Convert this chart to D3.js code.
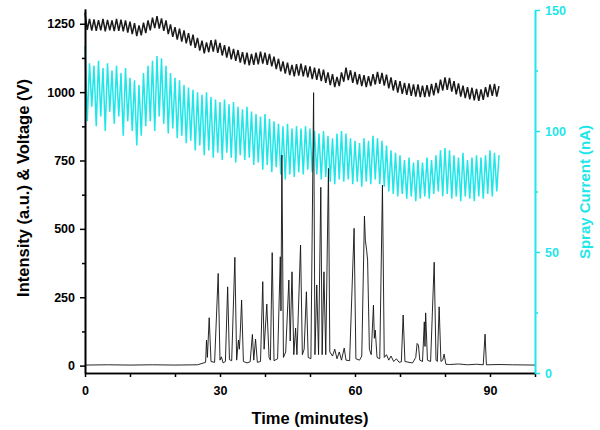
<!DOCTYPE html>
<html>
<head>
<meta charset="utf-8">
<script src="https://cdn.jsdelivr.net/npm/d3@7/dist/d3.min.js"></script>
<style>
  body { margin: 0; background: #fff; }
  svg { display: block; }
  text { font-family: "Liberation Sans", Arial, sans-serif; font-weight: bold; }
</style>
</head>
<body>
<svg id="chart" width="600" height="430"></svg>
<script>
// ---------- data ----------
const sampleStep = 0.5; // minutes between voltage / current samples

// Voltage (V), left axis, one value every 0.5 min from 0 to 92 min
const voltage = [
  1290,1228, 1268,1225, 1266,1224, 1263,1226, 1268,1222, 1264,1226, 1262,1223, 1268,1224, 1265,1222, 1262,1218,
  1258,1212, 1252,1205, 1244,1208, 1254,1216, 1262,1226, 1272,1234, 1278,1232, 1270,1224, 1262,1212, 1248,1202,
  1238,1192, 1232,1185, 1226,1178, 1216,1170, 1210,1162, 1198,1152, 1188,1142, 1182,1146, 1190,1148, 1192,1144,
  1180,1134, 1172,1126, 1166,1120, 1158,1114, 1154,1108, 1146,1102, 1144,1098, 1140,1100, 1144,1102, 1148,1104,
  1144,1100, 1140,1094, 1130,1084, 1122,1076, 1112,1068, 1108,1062, 1100,1058, 1102,1060, 1104,1058, 1098,1054,
  1094,1048, 1090,1045, 1086,1040, 1082,1034, 1072,1026, 1066,1018, 1056,1022, 1072,1038, 1090,1044, 1080,1034,
  1074,1028, 1066,1022, 1062,1018, 1058,1022, 1066,1028, 1074,1030, 1070,1024, 1064,1014, 1054,1006, 1044,998,
  1040,994, 1034,990, 1032,986, 1028,984, 1028,982, 1024,982, 1026,984, 1030,988, 1034,996, 1046,1006,
  1054,1008, 1052,1002, 1040,992, 1032,984, 1024,978, 1018,974, 1016,970, 1012,968, 1010,972, 1018,982,
  1028,986, 1030,984, 1022
];

// Spray current (nA), right axis, one value every 0.5 min from 0 to 92 min
const sprayCurrent = [
  135,104, 128,110, 127,102, 129,106, 126,100, 128,108, 125,103, 127,106, 124,98, 126,104,
  122,100, 121,94, 119,98, 124,102, 127,104, 129,100, 131,106, 130,103, 127,99, 124,101,
  122,97, 121,98, 119,95, 118,96, 117,92, 116,94, 115,90, 116,92, 114,89, 113,91,
  112,88, 113,91, 111,89, 112,87, 110,90, 109,88, 110,89, 108,86, 107,87, 106,84,
  107,86, 105,83, 104,85, 103,82, 102,80, 103,82, 101,81, 102,83, 101,82, 102,84,
  101,83, 100,82, 99,80, 100,81, 98,79, 97,78, 99,80, 100,79, 99,80, 97,78,
  96,79, 95,77, 97,79, 96,78, 98,80, 97,78, 96,77, 94,75, 92,74, 91,73,
  90,74, 88,72, 89,73, 87,71, 88,72, 87,73, 89,72, 88,74, 90,75, 92,73,
  93,74, 92,72, 90,73, 89,71, 91,73, 88,72, 89,71, 90,73, 89,72, 90,74,
  92,73, 91,75, 90
];

// Chromatogram intensity (a.u.), left axis: time (min) and intensity
const chromTime = [
  0,5,10,15,20,25,26,26.8,27.0,27.2,27.6,28.0,28.8,29.6,30.0,30.3,30.7,31.2,31.7,32.1,
  32.6,33.3,33.7,34.1,34.3,34.5,34.8,35.2,36.0,36.7,37.2,37.5,37.9,38.3,39.0,39.5,39.8,40.4,40.9,41.2,
  41.6,42.0,42.8,43.4,43.55,43.75,44.1,44.6,45.3,45.6,46.0,46.4,46.8,47.1,47.9,48.3,48.7,49.2,49.6,50.2,
  50.8,51.1,51.5,51.9,52.4,52.7,53.1,53.5,54.1,54.4,55.0,55.5,56.0,56.5,57.0,57.6,58.0,58.8,59.8,60.2,
  61.0,61.5,62.1,62.3,62.6,62.8,63.2,63.6,64.1,64.3,64.5,64.9,65.5,66.1,66.5,67.0,67.5,68.0,68.6,69.2,
  69.8,70.3,70.7,71.1,72.0,72.8,73.5,73.8,74.1,74.4,75.0,75.4,75.55,75.7,76.1,76.8,77.6,78.0,78.3,78.7,
  79.1,79.5,79.8,80.2,81,83,85,87,88.5,88.9,89.2,92,95,100
];
const chromIntensity = [
  2,3,2,3,2,3,8,12,93,30,175,15,12,337,20,32,10,15,288,22,
  18,396,20,93,60,118,240,15,10,14,114,20,97,12,15,307,60,225,30,20,
  413,18,25,398,200,770,30,50,313,90,343,40,137,40,441,40,60,270,30,25,
  998,40,295,40,652,40,343,40,721,50,35,60,25,50,20,64,20,18,502,25,
  20,35,547,459,420,386,60,40,221,100,130,30,25,660,30,40,20,35,15,25,
  12,14,185,15,12,10,30,81,75,20,15,160,70,193,20,15,378,20,15,215,
  15,20,42,5,4,6,3,5,3,115,3,4,3,2
];

// Axis ticks
const leftMajorTicks = [0, 250, 500, 750, 1000, 1250];
const leftMinorTicks = [125, 375, 625, 875, 1125];
const rightMajorTicks = [0, 50, 100, 150];
const rightMinorTicks = [25, 75, 125];
const xMajorTicks = [0, 30, 60, 90];
const xMinorTicks = [10, 20, 40, 50, 70, 80, 100];

// ---------- drawing ----------
const CYAN = "#1fe6e8";
const svg = d3.select("#chart");
const fmt = d3.format("d");

const x = d3.scaleLinear().domain([0, 100]).range([85, 535]);
const yL = d3.scaleLinear().domain([-27, 1304]).range([373, 9]);
const yR = d3.scaleLinear().domain([0, 150]).range([373, 10]);

const voltPts = voltage.map((v, i) => [i * sampleStep, v]);
const currPts = sprayCurrent.map((v, i) => [i * sampleStep, v]);
const chromPts = chromTime.map((t, i) => [t, chromIntensity[i]]);

const lineL = d3.line().x(d => x(d[0])).y(d => yL(d[1]));
const lineR = d3.line().x(d => x(d[0])).y(d => yR(d[1]));

svg.append("path").datum(currPts)
  .attr("d", lineR).attr("fill", "none")
  .attr("stroke", CYAN).attr("stroke-width", 1.5);

svg.append("path").datum(voltPts)
  .attr("d", lineL).attr("fill", "none")
  .attr("stroke", "#1a1a1a").attr("stroke-width", 1.5);

svg.append("path").datum(chromPts)
  .attr("d", lineL).attr("fill", "none")
  .attr("stroke", "#111").attr("stroke-width", 0.9)
  .attr("stroke-linejoin", "round");

function styleAxis(g, color) {
  g.selectAll("path.domain").attr("stroke", color).attr("stroke-width", 1.6);
  g.selectAll(".tick line").attr("stroke", color).attr("stroke-width", 1.5);
  g.selectAll(".tick text").attr("fill", color)
    .style("font-family", '"Liberation Sans", Arial, sans-serif')
    .style("font-weight", "bold").style("font-size", "12.5px");
}

// Left axis
const gL = svg.append("g").attr("transform", "translate(85,0)")
  .call(d3.axisLeft(yL).tickValues(leftMajorTicks).tickFormat(fmt).tickSize(5).tickSizeOuter(0).tickPadding(5));
styleAxis(gL, "#000");
const gLm = svg.append("g").attr("transform", "translate(85,0)")
  .call(d3.axisLeft(yL).tickValues(leftMinorTicks).tickSize(3).tickSizeOuter(0).tickFormat(""));
styleAxis(gLm, "#000");

// Bottom axis
const gB = svg.append("g").attr("transform", "translate(0,373)")
  .call(d3.axisBottom(x).tickValues(xMajorTicks).tickFormat(fmt).tickSize(4).tickSizeOuter(0).tickPadding(9));
styleAxis(gB, "#000");
const gBm = svg.append("g").attr("transform", "translate(0,373)")
  .call(d3.axisBottom(x).tickValues(xMinorTicks).tickSize(4).tickSizeOuter(0).tickFormat(""));
styleAxis(gBm, "#000");

// Right axis
const gR = svg.append("g").attr("transform", "translate(535,0)")
  .call(d3.axisRight(yR).tickValues(rightMajorTicks).tickFormat(fmt).tickSize(5).tickSizeOuter(0).tickPadding(5));
styleAxis(gR, CYAN);
const gRm = svg.append("g").attr("transform", "translate(535,0)")
  .call(d3.axisRight(yR).tickValues(rightMinorTicks).tickSize(3).tickSizeOuter(0).tickFormat(""));
styleAxis(gRm, CYAN);

// Titles
svg.append("text")
  .attr("transform", "translate(29,188) rotate(-90)")
  .attr("text-anchor", "middle")
  .style("font-size", "16.5px").attr("fill", "#000")
  .text("Intensity (a.u.) & Voltage (V)");

svg.append("text")
  .attr("x", 310).attr("y", 424)
  .attr("text-anchor", "middle")
  .style("font-size", "16.5px").attr("fill", "#000")
  .text("Time (minutes)");

svg.append("text")
  .attr("transform", "translate(590,192) rotate(-90)")
  .attr("text-anchor", "middle")
  .style("font-size", "15px").attr("fill", CYAN)
  .text("Spray Current (nA)");
</script>
</body>
</html>
